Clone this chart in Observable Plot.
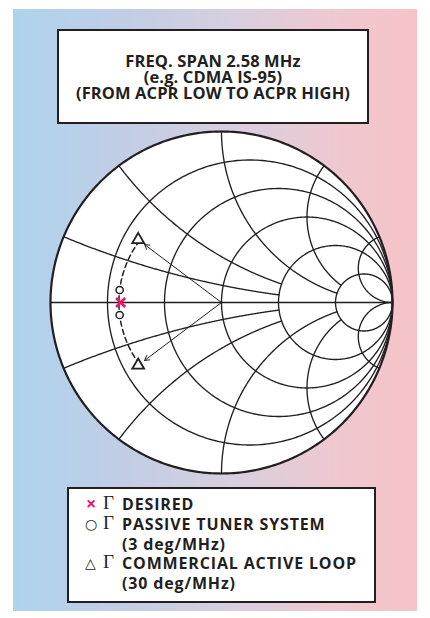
<!DOCTYPE html>
<html>
<head>
<meta charset="utf-8">
<script src="https://cdn.jsdelivr.net/npm/d3@7"></script>
<script src="https://cdn.jsdelivr.net/npm/@observablehq/plot@0.6"></script>
<style>
  html, body { margin: 0; padding: 0; background: #fff; }
  #page { position: relative; width: 430px; height: 618px; overflow: hidden; font-family: "Open Sans", Lato, sans-serif; color: #231f20; }
  #bg { position: absolute; left: 13px; top: 9px; width: 404px; height: 602px;
        background: linear-gradient(to right, #aed3ee 0%, #c3cde4 30%, #d8cfdf 55%, #efc8d0 80%, #f6c3c7 100%); }
  #title { position: absolute; left: 57px; top: 29px; width: 308px; height: 91px; background: #fff;
           border: 2px solid #231f20; display: flex; flex-direction: column; justify-content: center;
           align-items: center; font-weight: 700; font-size: 16.5px; line-height: 16px; letter-spacing: 0.1px; }
  #chart { position: absolute; left: 0; top: 127px; }
  #legend { position: absolute; left: 67px; top: 487px; width: 305px; height: 112px; background: #fff;
            border: 2px solid #231f20; }
  .row { position: absolute; left: 0; white-space: nowrap; font-weight: 700; font-size: 16px; line-height: 1; }
  .sym { position: absolute; }
  .gam { position: absolute; font-family: "Liberation Serif", "DejaVu Serif", serif; font-weight: 400; font-size: 19px; }
  .txt { position: absolute; left: 53px; letter-spacing: 0.85px; }
</style>
</head>
<body>
<div id="page">
  <div id="bg"></div>
  <div id="title"></div>
  <div id="chart"></div>
  <div id="legend"></div>
</div>
<script>
// Title lines
const titleLines = ["FREQ. SPAN 2.58 MHz", "(e.g. CDMA IS-95)", "(FROM ACPR LOW TO ACPR HIGH)"];

// Smith chart grid: constant-resistance circles and constant-reactance arcs
const resistanceCircles = [0.2, 0.5, 1, 2, 5];
const reactanceArcs = [0.2, 0.5, 1, 2, 5];
// resistance value at which each reactance arc stops (Infinity = runs to the right edge)
const reactanceArcEnd = [2, 2, 5, 5, Infinity];

// Reflection coefficients, magnitude and phase (degrees)
const desiredMag = [0.59], desiredPhase = [180];
const passiveMag = [0.6, 0.6], passivePhase = [173, 187];
const activeMag = [0.61, 0.61], activePhase = [143, 217];
// rotation locus drawn between the two active-loop end points
const locusMag = 0.6, locusPhase = [143, 217];

// Legend entries
const legendRows = [
  {sym: "×", gamma: true, text: "DESIRED", color: "#e8196a"},
  {sym: "○", gamma: true, text: "PASSIVE TUNER SYSTEM", color: "#231f20"},
  {sym: "", gamma: false, text: "(3 deg/MHz)", color: "#231f20"},
  {sym: "△", gamma: true, text: "COMMERCIAL ACTIVE LOOP", color: "#231f20"},
  {sym: "", gamma: false, text: "(30 deg/MHz)", color: "#231f20"}
];

const ink = "#231f20";
const rad = Math.PI / 180;
const toGamma = (mag, phase) => mag.map((m, i) => ({gx: m * Math.cos(phase[i] * rad), gy: m * Math.sin(phase[i] * rad)}));
const desired = toGamma(desiredMag, desiredPhase);
const passive = toGamma(passiveMag, passivePhase);
const active = toGamma(activeMag, activePhase);

// Γ = (z - 1) / (z + 1) for z = r + jx
function gammaOf(r, x) {
  const d = (r + 1) * (r + 1) + x * x;
  return {gx: (r * r + x * x - 1) / d, gy: (2 * x) / d};
}

// Constant-resistance circles, sampled along their circumference
const rPoints = resistanceCircles.flatMap((r) => {
  const cx = r / (r + 1), rr = 1 / (r + 1);
  return d3.range(0, 361, 1).map((a) => ({id: "r" + r, gx: cx + rr * Math.cos(a * rad), gy: rr * Math.sin(a * rad)}));
});

// Constant-reactance arcs (upper and lower halves), from the rim inward
const xPoints = reactanceArcs.flatMap((x, i) => {
  const rEnd = reactanceArcEnd[i];
  const rs = isFinite(rEnd)
    ? d3.range(0, 401).map((k) => rEnd * k / 400)
    : d3.range(0, 400).map((k) => Math.tan((k / 400) * Math.PI / 2)).concat([1e9]);
  return [x, -x].flatMap((xv) => rs.map((r) => ({id: "x" + xv, ...gammaOf(r, xv)})));
});

// Unit disk (|Γ| = 1)
const rim = d3.range(0, 361, 1).map((a) => ({gx: Math.cos(a * rad), gy: Math.sin(a * rad)}));
const disk = d3.range(0, 181, 1).map((a) => ({gx: Math.cos(a * rad), lo: -Math.sin(a * rad), hi: Math.sin(a * rad)}));

// Rotation locus of constant |Γ|
const locus = d3.range(locusPhase[0], locusPhase[1] + 0.5, 1).map((p) => ({gx: locusMag * Math.cos(p * rad), gy: locusMag * Math.sin(p * rad)}));

const chart = Plot.plot({
  width: 430,
  height: 350,
  marginLeft: 50,
  marginRight: 38,
  marginTop: 4,
  marginBottom: 4,
  x: {domain: [-1, 1], axis: null},
  y: {domain: [-1, 1], axis: null},
  style: {background: "transparent", overflow: "visible"},
  marks: [
    Plot.areaY(disk, {x: "gx", y1: "lo", y2: "hi", fill: "white"}),
    Plot.line(xPoints, {x: "gx", y: "gy", z: "id", stroke: ink, strokeWidth: 1.35}),
    Plot.line(rPoints, {x: "gx", y: "gy", z: "id", stroke: ink, strokeWidth: 1.35}),
    Plot.ruleY([0], {x1: -1, x2: 1, stroke: ink, strokeWidth: 1.7}),
    Plot.line(rim, {x: "gx", y: "gy", stroke: ink, strokeWidth: 2.2}),
    Plot.line(locus, {x: "gx", y: "gy", stroke: ink, strokeWidth: 1.5, strokeDasharray: "5,3.5"}),
    Plot.arrow(active, {x1: () => 0, y1: () => 0, x2: "gx", y2: "gy", insetEnd: 8, headLength: 8, stroke: ink, strokeWidth: 1}),
    Plot.dot(passive, {x: "gx", y: "gy", r: 3.6, fill: "white", stroke: ink, strokeWidth: 1.5}),
    Plot.dot(active, {x: "gx", y: "gy", symbol: "triangle", r: 4.4, fill: "white", stroke: ink, strokeWidth: 1.8}),
    Plot.dot(desired, {x: "gx", y: "gy", symbol: "times", r: 4.2, stroke: "#e8196a", strokeWidth: 2.6})
  ]
});
document.getElementById("chart").append(chart);

// Title box
const title = document.getElementById("title");
titleLines.forEach((t) => {
  const d = document.createElement("div");
  d.textContent = t;
  title.append(d);
});

// Legend box
const legend = document.getElementById("legend");
legendRows.forEach((row, i) => {
  const el = document.createElement("div");
  el.className = "row";
  el.style.top = (7 + i * 19.8) + "px";
  if (row.sym) {
    const s = document.createElement("span");
    s.className = "sym";
    s.textContent = row.sym;
    s.style.color = row.color;
    if (row.sym === "×") { s.style.left = "17px"; s.style.fontSize = "18px"; s.style.top = "-2px"; }
    else { s.style.left = "16px"; s.style.fontSize = "14px"; s.style.fontFamily = "DejaVu Sans"; s.style.fontWeight = "700"; s.style.top = "1px"; }
    el.append(s);
  }
  if (row.gamma) {
    const g = document.createElement("span");
    g.className = "gam";
    g.textContent = "Γ";
    g.style.left = "34px";
    g.style.top = "-3px";
    el.append(g);
  }
  const t = document.createElement("span");
  t.className = "txt";
  t.textContent = row.text;
  el.append(t);
  legend.append(el);
});
</script>
</body>
</html>
